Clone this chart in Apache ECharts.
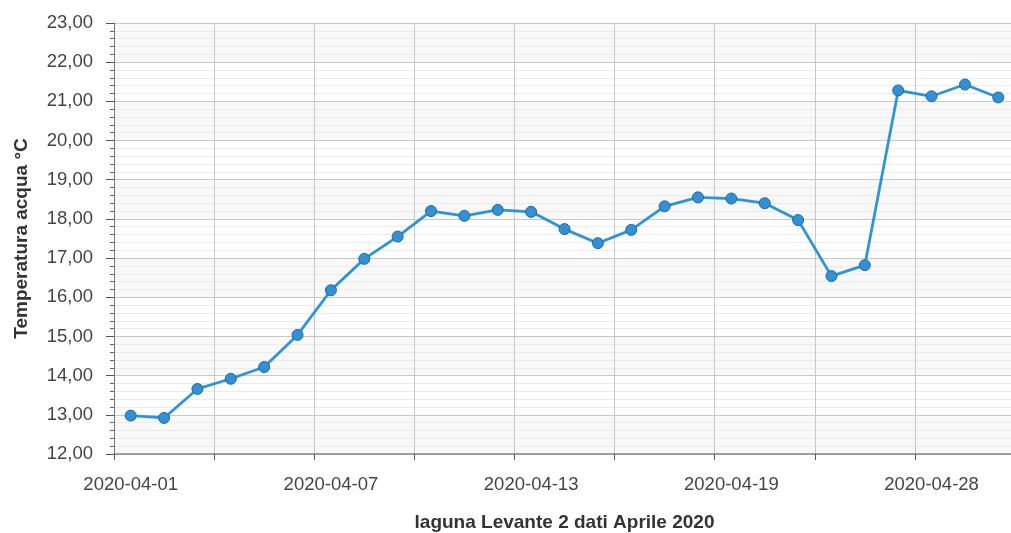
<!DOCTYPE html>
<html>
<head>
<meta charset="utf-8">
<script src="https://cdn.jsdelivr.net/npm/echarts@6/dist/echarts.min.js"></script>
<style>
html,body{margin:0;padding:0;background:#fff;}
#chart{width:1011px;height:533px;}
</style>
</head>
<body>
<div id="chart"></div>
<script>
const dates = ['2020-04-01','2020-04-02','2020-04-03','2020-04-04','2020-04-05','2020-04-06',
  '2020-04-07','2020-04-08','2020-04-09','2020-04-10','2020-04-11','2020-04-12',
  '2020-04-13','2020-04-14','2020-04-15','2020-04-16','2020-04-17','2020-04-18',
  '2020-04-19','2020-04-20','2020-04-21','2020-04-22','2020-04-23','2020-04-24',
  '2020-04-28','2020-04-29','2020-04-30'];
const temperature = [12.98, 12.92, 13.66, 13.92, 14.22, 15.04, 16.18, 16.98, 17.55, 18.20,
  18.08, 18.23, 18.18, 17.74, 17.38, 17.72, 18.32, 18.55, 18.52, 18.40, 17.97, 16.54, 16.82,
  21.28, 21.13, 21.43, 21.10];
const yMin = 12, yMax = 23, yStep = 1;
const xName = 'laguna Levante 2 dati Aprile 2020';
const yName = 'Temperatura acqua °C';

const font = "'Liberation Sans', Arial, sans-serif";
const chart = echarts.init(document.getElementById('chart'), null, {renderer: 'canvas'});
chart.setOption({
  animation: false,
  backgroundColor: '#ffffff',
  grid: {left: 114, top: 23, bottom: 79, right: -4, containLabel: false, outerBoundsMode: 'none'},
  xAxis: {
    type: 'category',
    data: dates,
    boundaryGap: true,
    name: xName,
    nameLocation: 'middle',
    nameGap: 59,
    nameTextStyle: {fontFamily: font, fontSize: 19, fontWeight: 'bold', color: '#333'},
    axisLine: {show: true, lineStyle: {color: '#888', width: 1.5}},
    axisTick: {show: true, interval: 2, length: 6, lineStyle: {color: '#555'}},
    axisLabel: {interval: 5, margin: 21, fontFamily: font, fontSize: 18.5, color: '#444'},
    splitLine: {show: true, interval: 2, lineStyle: {color: '#c8c8c8', width: 1}}
  },
  yAxis: {
    type: 'value',
    min: yMin, max: yMax, interval: yStep,
    name: yName,
    nameLocation: 'middle',
    nameGap: 83,
    nameTextStyle: {fontFamily: font, fontSize: 19, fontWeight: 'bold', color: '#333'},
    axisLine: {show: true, lineStyle: {color: '#777', width: 1}},
    axisTick: {show: true, length: 8, lineStyle: {color: '#555'}},
    minorTick: {show: true, splitNumber: 5, length: 4, lineStyle: {color: '#666'}},
    axisLabel: {margin: 21, fontFamily: font, fontSize: 18.5, color: '#444',
      formatter: v => v.toFixed(2).replace('.', ',')},
    splitLine: {show: true, lineStyle: {color: '#c8c8c8', width: 1}},
    minorSplitLine: {show: true, lineStyle: {color: '#ececec', width: 1}},
    splitArea: {show: true, areaStyle: {color: ['#f8f8f8', '#ffffff']}}
  },
  series: [{
    type: 'line',
    data: temperature,
    symbol: 'circle',
    symbolSize: 11,
    lineStyle: {color: '#2e94da', width: 2.8},
    itemStyle: {color: '#3390d4', borderColor: '#1e6aa6', borderWidth: 1}
  }]
});
</script>
</body>
</html>
